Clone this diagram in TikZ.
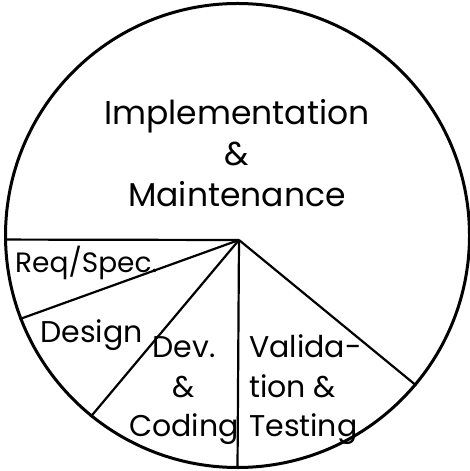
\documentclass[tikz,border=0pt]{standalone}
\usepackage{fontspec}
\setmainfont{Poppins}
\usetikzlibrary{positioning}

\tikzset{
    sector/.style={line width=2.2pt},
    label/.style={inner sep=0pt, font=\fontsize{33}{41}\selectfont},
    slice label/.style={inner sep=0pt, font=\fontsize{30}{40}\selectfont},
}

\begin{document}
\begin{tikzpicture}[x=1pt, y=1pt]
        \useasboundingbox (0,0) rectangle (469,471);
        \node (disc) [circle, draw, line width=3pt, minimum size=464pt, inner sep=0pt] at (237.5,235.5) {};
        \coordinate (hub) at (239,231);

\draw [sector] (hub) -- (disc.181);

\draw [sector] (hub) -- (disc.201);

\draw [sector] (hub) -- (disc.231.3);

\draw [sector] (hub) -- (disc.270.6);

\draw [sector] (hub) -- (disc.320);

\node (impl) [label, align=center, anchor=base] at (237,264) {Implementation\\\&\\Maintenance};

\node (reqspec) [slice label, anchor=base west, font=\fontsize{28}{34}\selectfont] at (15,198) {Req/Spec.};

\node (design) [slice label, anchor=base west] at (40,128) {Design};

\node (dev) [slice label, align=center, anchor=base] at (184,34) {Dev.\\\&\\Coding};

\node (valid) [slice label, align=left, anchor=base west] at (249,34) {Valida-\\tion \&\\Testing};
    \end{tikzpicture}
\end{document}
